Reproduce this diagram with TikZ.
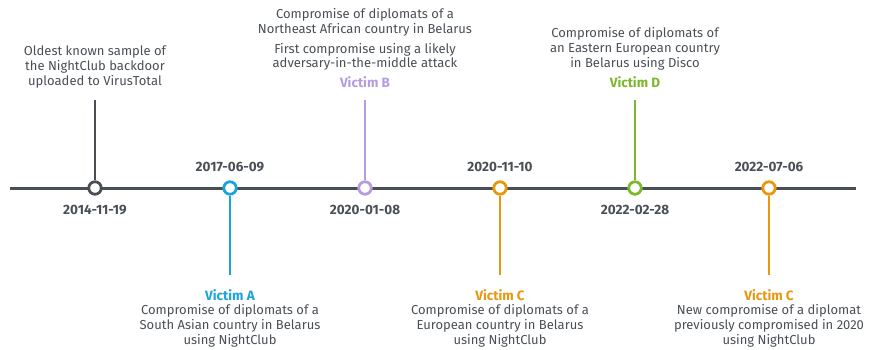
\documentclass[tikz,border=0pt]{standalone}
\usepackage{fontspec}
\setmainfont{Fira Sans}
\usetikzlibrary{positioning}
\definecolor{tlgray}{HTML}{4A4F56}
\definecolor{vicA}{HTML}{1BA3DB}
\definecolor{vicB}{HTML}{B59CE0}
\definecolor{vicC}{HTML}{E8970F}
\definecolor{vicD}{HTML}{7DB72B}

\tikzset{
  event/.style={draw=#1,circle,line width=2.8pt,fill=white,minimum size=12.5pt,inner sep=0pt},
  stem/.style={draw=#1,line width=1.4pt},
  datelabel/.style={font=\fontsize{13.5}{15}\selectfont\bfseries,text=tlgray},
  victim/.style={font=\fontsize{13.5}{15}\selectfont\bfseries,text=#1},
  note/.style={align=center,text=tlgray,font=\fontsize{13}{14.8}\selectfont,inner sep=0pt},
}

\begin{document}
\begin{tikzpicture}[x=1pt,y=-1pt]
  \useasboundingbox (0,0) rectangle (869,350);

  \coordinate (start) at (10,188);
  \coordinate (end) at (856,188);
  \draw[tlgray,line width=3pt] (start) -- (end);

  \node[event=tlgray] (e1) at (95,188) {};
  \node[event=vicA] (e2) at (230,188) {};
  \node[event=vicB] (e3) at (365,188) {};
  \node[event=vicC] (e4) at (500,188) {};
  \node[event=vicD] (e5) at (635,188) {};
  \node[event=vicC] (e6) at (769,188) {};

  \coordinate (t1) at (95,100);
  \coordinate (t2) at (230,275);
  \coordinate (t3) at (365,100);
  \coordinate (t4) at (500,275);
  \coordinate (t5) at (635,100);
  \coordinate (t6) at (769,275);
  \draw[stem=tlgray,line width=2pt] (e1) -- (t1);
  \draw[stem=vicA] (e2) -- (t2);
  \draw[stem=vicB] (e3) -- (t3);
  \draw[stem=vicC] (e4) -- (t4);
  \draw[stem=vicD] (e5) -- (t5);
  \draw[stem=vicC] (e6) -- (t6);

  \node[datelabel] (d1) at (95,210) {2014-11-19};
  \node[datelabel] (d2) at (230,167) {2017-06-09};
  \node[datelabel] (d3) at (365,210) {2020-01-08};
  \node[datelabel] (d4) at (500,167) {2020-11-10};
  \node[datelabel] (d5) at (635,210) {2022-02-28};
  \node[datelabel] (d6) at (769,167) {2022-07-06};

  \node[note] (n1) at (95,67) {Oldest known sample of\\the NightClub backdoor\\uploaded to VirusTotal};

  \node[victim=vicA] (vA) at (230,295) {Victim A};
  \node[note] (nA) at (230,326) {Compromise of diplomats of a\\South Asian country in Belarus\\using NightClub};

  \node[victim=vicB] (vB) at (365,82) {Victim B};
  \node[note] (nB) at (365,39.5) {Compromise of diplomats of a\\Northeast African country in Belarus\\[5pt]First compromise using a likely\\adversary-in-the-middle attack};

  \node[victim=vicC] (vC1) at (500,295) {Victim C};
  \node[note] (nC1) at (500,326) {Compromise of diplomats of a\\European country in Belarus\\using NightClub};

  \node[victim=vicD] (vD) at (635,82) {Victim D};
  \node[note] (nD) at (635,49) {Compromise of diplomats of\\an Eastern European country\\in Belarus using Disco};

  \node[victim=vicC] (vC2) at (769,295) {Victim C};
  \node[note] (nC2) at (769,326) {New compromise of a diplomat\\previously compromised in 2020\\using NightClub};
\end{tikzpicture}
\end{document}
